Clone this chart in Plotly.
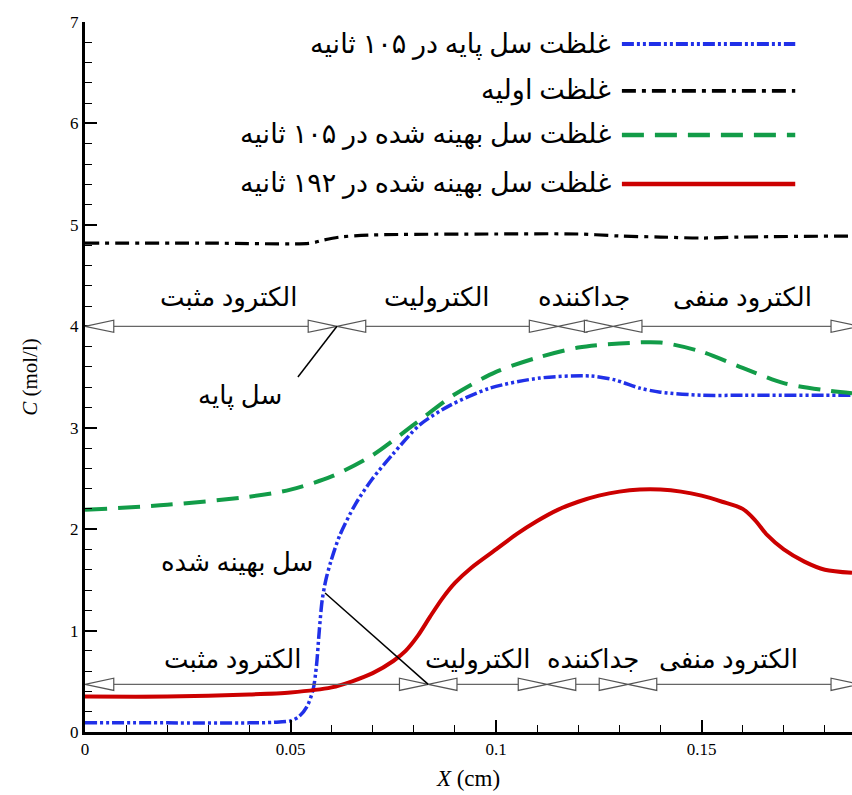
import plotly.graph_objects as go

# ---------------- data ----------------
x_blue = [0, 0.02, 0.04, 0.046, 0.05, 0.052, 0.054, 0.0555, 0.0563, 0.057, 0.0577, 0.0586, 0.0598, 0.062,
          0.0657, 0.0698, 0.0747, 0.0815, 0.0888, 0.0985, 0.1107, 0.1229, 0.129, 0.135, 0.14,
          0.15, 0.16, 0.17, 0.18, 0.1866]
y_blue = [0.09, 0.09, 0.09, 0.095, 0.11, 0.15, 0.25, 0.42, 0.65, 1.0, 1.3, 1.5, 1.68, 1.94,
          2.24, 2.49, 2.73, 3.03, 3.22, 3.39, 3.49, 3.51, 3.47, 3.39, 3.35,
          3.32, 3.32, 3.32, 3.32, 3.32]

x_black = [0, 0.03, 0.055, 0.058, 0.062, 0.07, 0.1, 0.12, 0.13, 0.14, 0.15, 0.16, 0.1866]
y_black = [4.82, 4.82, 4.82, 4.85, 4.88, 4.9, 4.91, 4.91, 4.89, 4.88, 4.87, 4.88, 4.89]

x_green = [0, 0.02, 0.04, 0.05, 0.06, 0.07, 0.08, 0.09, 0.1, 0.11, 0.12, 0.13, 0.14,
           0.15, 0.16, 0.17, 0.18, 0.1866]
y_green = [2.19, 2.24, 2.32, 2.39, 2.52, 2.73, 3.03, 3.33, 3.55, 3.69, 3.79, 3.83, 3.84,
           3.75, 3.59, 3.44, 3.37, 3.34]

x_red = [0, 0.02, 0.04, 0.05, 0.06, 0.065, 0.07, 0.075, 0.078, 0.081, 0.084, 0.087, 0.09, 0.094,
         0.1, 0.105, 0.11, 0.115, 0.12, 0.125, 0.13, 0.135, 0.14, 0.145, 0.15, 0.155,
         0.16, 0.163, 0.166, 0.17, 0.175, 0.18, 0.1866]
y_red = [0.35, 0.35, 0.37, 0.39, 0.44, 0.5, 0.58, 0.7, 0.8, 0.95, 1.14, 1.32, 1.47, 1.62,
         1.8, 1.95, 2.08, 2.19, 2.27, 2.33, 2.37, 2.39, 2.39, 2.37, 2.33, 2.27,
         2.2, 2.09, 1.94, 1.8, 1.68, 1.6, 1.57]

legend_names = ["غلظت سل پایه در ۱۰۵ ثانیه", "غلظت اولیه",
                "غلظت سل بهینه شده در ۱۰۵ ثانیه", "غلظت سل بهینه شده در ۱۹۲ ثانیه"]

region_labels = ["الکترود مثبت", "الکترولیت", "جداکننده", "الکترود منفی"]
top_bounds = [0, 0.0613, 0.1151, 0.1285, 0.1885]
top_label_x = [0.0348, 0.0857, 0.1214, 0.160]
bottom_bounds = [0, 0.0835, 0.1124, 0.1321, 0.1885]
bottom_label_x = [0.0358, 0.0956, 0.1236, 0.1565]
top_row_y = 4.0
bottom_row_y = 0.47

callout_texts = ["سل پایه", "سل بهینه شده"]

# ---------------- styles ----------------
colors = ["#2030e8", "#000000", "#129c48", "#cc0000"]
dashes = ["12px,3px,3px,3px,3px,3px", "14px,6px,4px,6px", "22px,11px", "solid"]
widths = [3.5, 3.2, 4, 4]
FONT = "Liberation Serif, DejaVu Serif, DejaVu Sans"
PFONT = 26

fig = go.Figure()
series = [(x_blue, y_blue), (x_black, y_black), (x_green, y_green), (x_red, y_red)]
for i, (xs, ys) in enumerate(series):
    fig.add_trace(go.Scatter(x=xs, y=ys, mode="lines", name=legend_names[i],
                             line=dict(color=colors[i], width=widths[i], dash=dashes[i],
                                       shape="spline", smoothing=0.8),
                             showlegend=False))

shapes = []
annotations = []

# region dimension lines with open triangles
TRI_L = 0.0070
TRI_H = 0.06
def tri(tip, direction, yc):
    base = tip - direction * TRI_L
    return dict(type="path", xref="x", yref="y",
                path=f"M {tip} {yc} L {base} {yc + TRI_H} L {base} {yc - TRI_H} Z",
                line=dict(color="#555555", width=1.2), fillcolor="white", layer="above")

for bounds, yc, lx, ly in [(top_bounds, top_row_y, top_label_x, 4.28),
                           (bottom_bounds, bottom_row_y, bottom_label_x, 0.71)]:
    for i in range(len(bounds) - 1):
        a, b = bounds[i], bounds[i + 1]
        shapes.append(dict(type="line", xref="x", yref="y", x0=a + TRI_L, x1=b - TRI_L,
                           y0=yc, y1=yc, line=dict(color="#666666", width=1.2), layer="above"))
        shapes.append(tri(a, -1, yc))
        shapes.append(tri(b, 1, yc))
        annotations.append(dict(x=lx[i], y=ly, xref="x", yref="y", text=region_labels[i],
                                showarrow=False, yanchor="middle",
                                font=dict(family=FONT, size=PFONT, color="black")))

# callouts
annotations.append(dict(x=0.0377, y=3.32, xref="x", yref="y", text=callout_texts[0],
                        showarrow=False, yanchor="middle",
                        font=dict(family=FONT, size=PFONT, color="black")))
shapes.append(dict(type="line", xref="x", yref="y", x0=0.0518, y0=3.50, x1=top_bounds[1], y1=top_row_y,
                   line=dict(color="black", width=1.5)))
annotations.append(dict(x=0.037, y=1.67, xref="x", yref="y", text=callout_texts[1],
                        showarrow=False, yanchor="middle",
                        font=dict(family=FONT, size=PFONT, color="black")))
shapes.append(dict(type="line", xref="x", yref="y", x0=0.0584, y0=1.37, x1=bottom_bounds[1], y1=bottom_row_y,
                   line=dict(color="black", width=1.5)))

# manual legend (text to the left of the sample, RTL style)
leg_y = [0.969, 0.903, 0.841, 0.772]
for i in range(4):
    shapes.append(dict(type="line", xref="paper", yref="paper", x0=0.70, x1=0.926,
                       y0=leg_y[i], y1=leg_y[i],
                       line=dict(color=colors[i], width=widths[i] + 0.5, dash=dashes[i])))
    annotations.append(dict(x=0.688, y=leg_y[i], xref="paper", yref="paper", text=legend_names[i],
                            xanchor="right", yanchor="middle", showarrow=False,
                            font=dict(family=FONT, size=27, color="black")))

fig.update_layout(
    width=852, height=795,
    margin=dict(l=85, r=0, t=22, b=63),
    paper_bgcolor="white", plot_bgcolor="white",
    shapes=shapes, annotations=annotations,
    font=dict(family=FONT, size=17, color="black"),
    xaxis=dict(range=[0, 0.1866], tick0=0, dtick=0.05, ticks="inside", ticklen=12, tickwidth=2,
               tickcolor="black", showline=True, linecolor="black", linewidth=3,
               showgrid=False, zeroline=False,
               minor=dict(dtick=0.01, ticks="inside", ticklen=7, tickwidth=1.2, tickcolor="black",
                          showgrid=False),
               title=dict(text="<i>X</i> (cm)", font=dict(family=FONT, size=23), standoff=12),
               tickfont=dict(family=FONT, size=17)),
    yaxis=dict(range=[0, 7], tick0=0, dtick=1, ticks="inside", ticklen=12, tickwidth=2,
               tickcolor="black", showline=True, linecolor="black", linewidth=3,
               showgrid=False, zeroline=False,
               minor=dict(dtick=0.2, ticks="inside", ticklen=7, tickwidth=1.2, tickcolor="black",
                          showgrid=False),
               title=dict(text="<i>C</i> (mol/l)", font=dict(family=FONT, size=21), standoff=27),
               tickfont=dict(family=FONT, size=17)),
)

fig.write_html("out.html", config={"displayModeBar": False},
               post_script="document.body.style.margin='0';document.body.style.overflow='hidden';")
